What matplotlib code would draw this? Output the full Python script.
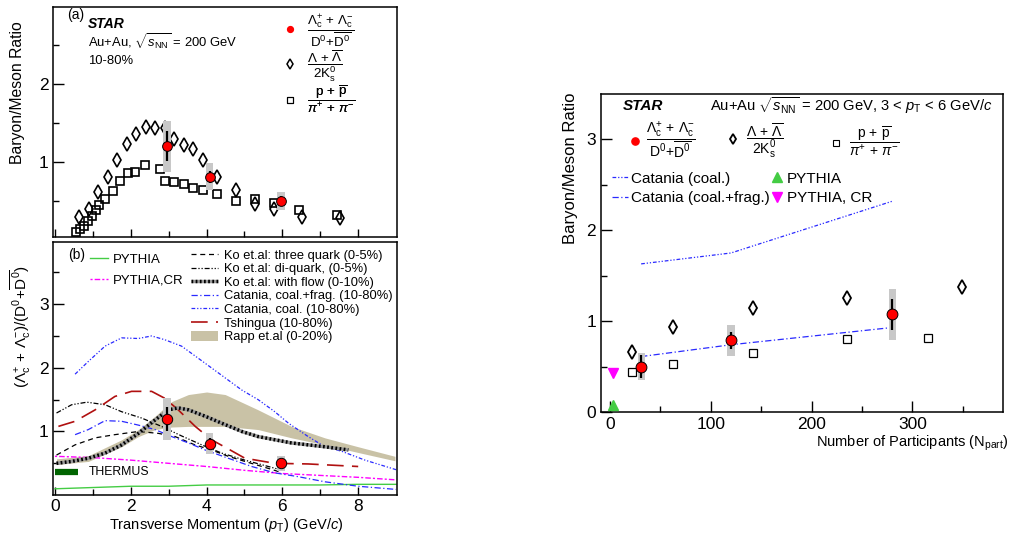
import matplotlib
matplotlib.use('Agg')
import matplotlib.pyplot as plt
from matplotlib.lines import Line2D
from matplotlib.patches import Patch

plt.rcParams['font.family'] = ['Liberation Sans', 'DejaVu Sans']
plt.rcParams['mathtext.fontset'] = 'custom'
plt.rcParams['mathtext.rm'] = 'Liberation Sans'
plt.rcParams['mathtext.it'] = 'Liberation Sans:italic'
plt.rcParams['mathtext.bf'] = 'Liberation Sans:bold'
plt.rcParams['mathtext.sf'] = 'Liberation Sans'

# ---------------- data: panel (a) / (b) ----------------
pt_lc = [2.95, 4.08, 5.96]
lc = [1.20, 0.81, 0.50]
lc_stat = [0.19, 0.08, 0.06]
lc_sys = [0.33, 0.17, 0.12]

pt_lam = [0.64, 0.89, 1.14, 1.39, 1.64, 1.89, 2.15, 2.40, 2.65, 2.89, 3.14, 3.40,
          3.65, 3.90, 4.27, 4.77, 5.28, 5.78, 6.53, 7.53]
lam = [0.29, 0.40, 0.62, 0.81, 1.03, 1.23, 1.36, 1.45, 1.44, 1.43, 1.30, 1.22,
       1.17, 1.03, 0.81, 0.64, 0.46, 0.40, 0.30, 0.28]

pt_p = [0.55, 0.66, 0.77, 0.88, 0.98, 1.09, 1.17, 1.33, 1.52, 1.72, 1.93, 2.12, 2.37,
        2.77, 2.89, 3.14, 3.40, 3.64, 3.90, 4.27, 4.77, 5.28, 5.78, 6.45, 7.45]
ppi = [0.10, 0.14, 0.175, 0.24, 0.31, 0.38, 0.45, 0.52, 0.63, 0.75, 0.86, 0.87, 0.96,
       0.91, 0.76, 0.74, 0.72, 0.66, 0.64, 0.59, 0.50, 0.52, 0.47, 0.39, 0.32]

pt_cat_coal = [0.53, 0.88, 1.32, 1.76, 2.2, 2.55, 2.9, 3.34, 3.78, 4.31, 4.93, 5.36,
               5.8, 6.16, 6.68, 7.12, 7.56, 8.18, 9.0]
cat_coal = [1.90, 2.10, 2.34, 2.47, 2.46, 2.50, 2.44, 2.34, 2.15, 1.92, 1.65, 1.50,
            1.31, 1.13, 0.92, 0.76, 0.69, 0.55, 0.40]

pt_cat_cf = [0.53, 0.88, 1.32, 1.76, 2.2, 2.64, 3.08, 3.52, 3.96, 4.57, 5.19, 5.8,
             6.42, 7.12, 8.0, 9.0]
cat_cf = [0.95, 1.03, 1.17, 1.16, 1.10, 1.03, 0.92, 0.82, 0.71, 0.58, 0.45, 0.35,
          0.29, 0.21, 0.14, 0.09]

pt_tsh = [0.09, 0.53, 1.06, 1.58, 2.02, 2.55, 2.9, 3.25, 3.7, 4.13, 4.62, 5.01, 5.8, 6.68, 8.0]
tsh = [1.08, 1.16, 1.34, 1.55, 1.63, 1.63, 1.52, 1.34, 1.08, 0.87, 0.71, 0.58, 0.50, 0.49, 0.45]

pt_ko3 = [0.04, 0.53, 1.06, 1.58, 2.2, 2.73, 3.17, 3.69, 4.13, 4.57, 5.01, 5.63, 5.9]
ko3 = [0.63, 0.79, 0.90, 0.95, 1.0, 0.97, 0.92, 0.79, 0.71, 0.61, 0.53, 0.42, 0.37]

pt_kodi = [0.04, 0.44, 0.84, 1.32, 1.76, 2.29, 2.81, 3.34, 3.87, 4.4, 5.01, 5.63, 5.94]
kodi = [1.29, 1.42, 1.46, 1.42, 1.31, 1.21, 1.08, 0.93, 0.79, 0.66, 0.55, 0.45, 0.40]

pt_koflow = [0.04, 0.44, 0.88, 1.32, 1.76, 2.2, 2.64, 2.99, 3.25, 3.52, 3.96, 4.4,
             4.93, 5.36, 6.24, 7.12, 7.74]
koflow = [0.50, 0.53, 0.58, 0.66, 0.79, 0.97, 1.18, 1.34, 1.37, 1.34, 1.24, 1.13,
          1.0, 0.92, 0.82, 0.76, 0.71]

pt_pycr = [0.0, 1.0, 2.0, 3.0, 4.0, 5.0, 6.0, 7.0, 8.0, 9.0]
pycr = [0.61, 0.59, 0.55, 0.50, 0.45, 0.39, 0.34, 0.31, 0.28, 0.24]

pt_py = [0.0, 1.0, 2.0, 3.0, 4.0, 5.0, 6.0, 7.0, 8.0, 9.0]
pythia = [0.10, 0.12, 0.14, 0.14, 0.16, 0.16, 0.16, 0.16, 0.17, 0.17]

pt_rapp = [0.04, 0.88, 1.76, 2.2, 2.64, 3.08, 3.52, 4.0, 4.49, 5.36, 6.24, 7.12, 8.0, 8.97]
rapp_hi = [0.57, 0.62, 0.87, 1.03, 1.24, 1.47, 1.58, 1.62, 1.58, 1.34, 1.08, 0.90, 0.76, 0.61]
rapp_lo = [0.48, 0.53, 0.76, 0.92, 1.03, 1.07, 1.08, 1.08, 1.08, 1.03, 0.90, 0.79, 0.67, 0.54]

pt_thermus = [0.0, 0.6]
thermus = [0.37, 0.37]

# ---------------- data: right panel ----------------
npart_lc = [30.8, 120.0, 280.2]
r_lc = [0.50, 0.79, 1.075]
r_lc_stat = [0.13, 0.095, 0.17]
r_lc_sys = [0.15, 0.17, 0.28]

npart_lam = [21.8, 62.2, 141.6, 235.5, 349.3]
r_lam = [0.66, 0.936, 1.14, 1.25, 1.376]

npart_p = [21.8, 62.2, 141.6, 235.5, 315.9]
r_p = [0.437, 0.528, 0.65, 0.80, 0.81]

npart_pythia = [3.0]
r_pythia = [0.075]
r_pythia_cr = [0.43]

npart_cat = [30.8, 120.0, 280.2]
r_cat_coal = [1.63, 1.75, 2.32]
r_cat_cf = [0.61, 0.74, 0.93]

# ---------------- styles ----------------
RED = '#ff0000'
BLUE = '#2a2aff'
TSH = '#b01010'
GRAYBOX = '#c8c8c8'
TAN = '#c9c2a6'
LBL_LC = r'$\dfrac{\Lambda_{\rm c}^{+}\,+\,\Lambda_{\rm c}^{-}}{\mathrm{D}^{0}\!+\!\overline{\mathrm{D}^{0}}}$'
LBL_LAM = r'$\dfrac{\Lambda\,+\,\overline{\Lambda}}{2\mathrm{K}_{\rm s}^{0}}$'
LBL_P = r'$\dfrac{\mathrm{p}\,+\,\overline{\mathrm{p}}}{\pi^{+}\,+\,\pi^{-}}$'
FRAC_FS = 10.0

fig = plt.figure(figsize=(10.11, 5.37), dpi=100)
axa = fig.add_axes([0.0529, 0.5581, 0.340, 0.4283])
axb = fig.add_axes([0.0529, 0.0791, 0.340, 0.4708])
axr = fig.add_axes([0.5945, 0.2328, 0.3976, 0.5922])

for ax in (axa, axb, axr):
    for s in ax.spines.values():
        s.set_linewidth(1.1)
    ax.tick_params(which='both', direction='in', top=False, right=False, width=1.0,
                   labelsize=12.5)
    ax.tick_params(which='major', length=8)
    ax.tick_params(which='minor', length=4)


def draw_lc(ax, x, y, stat, sys, w, ms):
    ax.bar(x, [2 * s for s in sys], bottom=[a - s for a, s in zip(y, sys)], width=w,
           color=GRAYBOX, edgecolor='none', zorder=5)
    ax.errorbar(x, y, yerr=stat, fmt='none', ecolor='black', elinewidth=1.6, zorder=6)
    ax.plot(x, y, 'o', color=RED, mec='black', mew=0.7, ms=ms, zorder=7)


def single_legend(ax, handle, label, x, y, fs, pad):
    lg = ax.legend([handle], [label], loc='center left', bbox_to_anchor=(x, y),
                   frameon=False, fontsize=fs, handlelength=0.8, handletextpad=pad,
                   borderpad=0, borderaxespad=0)
    ax.add_artist(lg)


# ---------------- panel (a) ----------------
axa.set_xlim(-0.04, 9.03)
axa.set_ylim(0.035, 2.98)
axa.set_xticks([0, 2, 4, 6, 8])
axa.set_xticks([1, 3, 5, 7], minor=True)
axa.set_yticks([1, 2])
axa.set_yticks([0.5, 1.5, 2.5], minor=True)
axa.tick_params(axis='x', labelbottom=False)
axa.tick_params(axis='x', which='major', length=6)
axa.tick_params(axis='x', which='minor', length=4)

axa.plot(pt_lam, lam, 'd', mfc='none', mec='black', mew=1.2, ms=7.5, zorder=3)
axa.plot(pt_p, ppi, 's', mfc='none', mec='black', mew=1.2, ms=5.2, zorder=3)
draw_lc(axa, pt_lc, lc, lc_stat, lc_sys, 0.2, 7)

axa.text(0.32, 2.88, '(a)', fontsize=10, va='center')
axa.text(0.87, 2.77, 'STAR', fontsize=10, fontweight='bold', style='italic', va='center')
axa.text(0.87, 2.53, r'Au+Au, $\sqrt{s_{\rm NN}}$ = 200 GeV', fontsize=9.4, va='center')
axa.text(0.87, 2.29, '10-80%', fontsize=9.4, va='center')
hc = Line2D([], [], marker='o', ls='none', color=RED, mec=RED, ms=4.2)
hl_leg = Line2D([], [], marker='d', ls='none', mfc='none', mec='black', mew=1.1, ms=5.2)
hp_leg = Line2D([], [], marker='s', ls='none', mfc='none', mec='black', mew=0.8, ms=4.5)
single_legend(axa, hc, LBL_LC, 0.672, 0.897, 9.6, 0.9)
single_legend(axa, hl_leg, LBL_LAM, 0.672, 0.745, 9.6, 0.9)
single_legend(axa, hp_leg, LBL_P, 0.672, 0.598, 9.6, 0.9)

# ---------------- panel (b) ----------------
axb.set_xlim(-0.04, 9.03)
axb.set_ylim(0.01, 3.98)
axb.set_xticks([0, 2, 4, 6, 8])
axb.set_xticks([1, 3, 5, 7], minor=True)
axb.set_yticks([1, 2, 3])
axb.set_yticks([0.5, 1.5, 2.5, 3.5], minor=True)
axb.tick_params(axis='x', which='major', length=6)

axb.fill_between(pt_rapp, rapp_lo, rapp_hi, color=TAN, lw=0, zorder=1)
l_py, = axb.plot(pt_py, pythia, color='#44cc44', lw=1.0, zorder=2)
l_pycr, = axb.plot(pt_pycr, pycr, color='#ff00ff', lw=1.0, ls=(0, (1.5, 1.5, 4, 1.5)), zorder=2)
l_ko3, = axb.plot(pt_ko3, ko3, color='black', lw=0.9, ls=(0, (4, 3)), zorder=2)
l_kodi, = axb.plot(pt_kodi, kodi, color='black', lw=0.9, ls=(0, (4, 1.5, 1, 1.5, 1, 1.5)), zorder=2)
l_kof1, = axb.plot(pt_koflow, koflow, color='#9a9a9a', lw=2.5, zorder=3, solid_capstyle='butt')
l_kof2, = axb.plot(pt_koflow, koflow, color='black', lw=2.5, ls=(0, (0.5, 0.7)), zorder=3,
                   dash_capstyle='butt')
l_catcf, = axb.plot(pt_cat_cf, cat_cf, color=BLUE, lw=0.9, ls=(0, (5, 2, 1, 2)), zorder=2)
l_catc, = axb.plot(pt_cat_coal, cat_coal, color=BLUE, lw=0.9, ls=(0, (3, 1.5, 1, 1.5, 1, 1.5)), zorder=2)
l_tsh, = axb.plot(pt_tsh, tsh, color=TSH, lw=1.2, ls=(0, (10, 5)), zorder=2)
axb.plot(pt_thermus, thermus, color='#006400', lw=4.5, solid_capstyle='butt', zorder=2)
axb.text(0.9, 0.37, 'THERMUS', fontsize=8.8, va='center')
draw_lc(axb, pt_lc, lc, lc_stat, lc_sys, 0.2, 7.5)

axb.text(0.34, 3.77, '(b)', fontsize=10, va='center')
lega = axb.legend([l_py, l_pycr], ['PYTHIA', 'PYTHIA,CR'], loc='upper left',
                  bbox_to_anchor=(0.105, 0.952), frameon=False, fontsize=9.5,
                  handlelength=1.4, handletextpad=0.4, labelspacing=0.65, borderpad=0,
                  borderaxespad=0)
axb.add_artist(lega)
rapp_patch = Patch(facecolor=TAN, edgecolor='none')
axb.legend([l_ko3, l_kodi, (l_kof1, l_kof2), l_catcf, l_catc, l_tsh, rapp_patch],
           ['Ko et.al: three quark (0-5%)', 'Ko et.al: di-quark, (0-5%)',
            'Ko et.al: with flow (0-10%)', 'Catania, coal.+frag. (10-80%)',
            'Catania, coal. (10-80%)', 'Tshingua (10-80%)', 'Rapp et.al (0-20%)'],
           loc='upper left', bbox_to_anchor=(0.40, 0.97), frameon=False, fontsize=9.3,
           handlelength=2.1, handletextpad=0.45, labelspacing=0.09, borderpad=0,
           borderaxespad=0, handleheight=0.8)

# ---------------- right panel ----------------
axr.set_xlim(-9, 390)
axr.set_ylim(0, 3.5)
axr.set_xticks([0, 100, 200, 300])
axr.set_xticks([50, 150, 250, 350], minor=True)
axr.set_yticks([0, 1, 2, 3])
axr.set_yticks([0.5, 1.5, 2.5], minor=True)

r_cc, = axr.plot(npart_cat, r_cat_coal, color=BLUE, lw=0.9, ls=(0, (3, 1.5, 1, 1.5, 1, 1.5)), zorder=2)
r_cf, = axr.plot(npart_cat, r_cat_cf, color=BLUE, lw=0.9, ls=(0, (5, 2, 1, 2)), zorder=2)
axr.plot(npart_lam, r_lam, 'd', mfc='none', mec='black', mew=1.3, ms=7.5, zorder=3)
axr.plot(npart_p, r_p, 's', mfc='none', mec='black', mew=0.9, ms=5.2, zorder=3)
axr.plot(npart_pythia, r_pythia, '^', color='#44cc44', ms=7, zorder=4)
axr.plot(npart_pythia, r_pythia_cr, 'v', color='#ff00ff', ms=7, zorder=4)
draw_lc(axr, npart_lc, r_lc, r_lc_stat, r_lc_sys, 7, 7.8)

axr.text(13, 3.37, 'STAR', fontsize=11, fontweight='bold', style='italic', va='center')
axr.text(99, 3.37, r'Au+Au $\sqrt{s_{\rm NN}}$ = 200 GeV, 3 < $p_{\rm T}$ < 6 GeV/$c$',
         fontsize=10.6, va='center')
hc_r = Line2D([], [], marker='o', ls='none', color=RED, mec=RED, ms=5.2)
hl_r = Line2D([], [], marker='d', ls='none', mfc='none', mec='black', mew=1.3, ms=5.5)
hp_r = Line2D([], [], marker='s', ls='none', mfc='none', mec='black', mew=0.8, ms=4.5)
single_legend(axr, hc_r, LBL_LC, 0.071, 0.853, FRAC_FS, 0.35)
single_legend(axr, hl_r, LBL_LAM, 0.315, 0.853, FRAC_FS, 0.55)
single_legend(axr, hp_r, LBL_P, 0.571, 0.853, FRAC_FS, 0.55)
h_py = Line2D([], [], marker='^', ls='none', color='#44cc44', ms=6.5)
h_pycr = Line2D([], [], marker='v', ls='none', color='#ff00ff', ms=6.5)
axr.legend([r_cc, r_cf, h_py, h_pycr],
           ['Catania (coal.)', 'Catania (coal.+frag.)', 'PYTHIA', 'PYTHIA, CR'],
           loc='upper left', ncol=2, bbox_to_anchor=(0.028, 0.756), frameon=False,
           fontsize=11, handlelength=1.05, handletextpad=0.15, columnspacing=-0.05,
           labelspacing=0.35, borderpad=0, borderaxespad=0)

# ---------------- axis titles ----------------
fig.text(18 / 1011, 1 - 93 / 537, 'Baryon/Meson Ratio', rotation=90, fontsize=11.3,
         ha='center', va='center')
fig.text(21 / 1011, 1 - 265 / 537,
         r'$(\Lambda_{\rm c}^{+}\,+\,\Lambda_{\rm c}^{-})/(\mathrm{D}^{0}\!+\!\overline{\mathrm{D}^{0}})$',
         rotation=90, fontsize=11, ha='center', va='top')
fig.text(226 / 1011, 1 - 525 / 537, r'Transverse Momentum ($p_{\rm T}$) (GeV/$c$)',
         fontsize=10.5, ha='center', va='center')
fig.text(570 / 1011, 1 - 93 / 537, 'Baryon/Meson Ratio', rotation=90, fontsize=12,
         ha='center', va='top')
fig.text(1008 / 1011, 1 - 443 / 537, r'Number of Participants (N$_{\rm part}$)',
         fontsize=10.5, ha='right', va='center')

fig.savefig('out.png', dpi=100)
